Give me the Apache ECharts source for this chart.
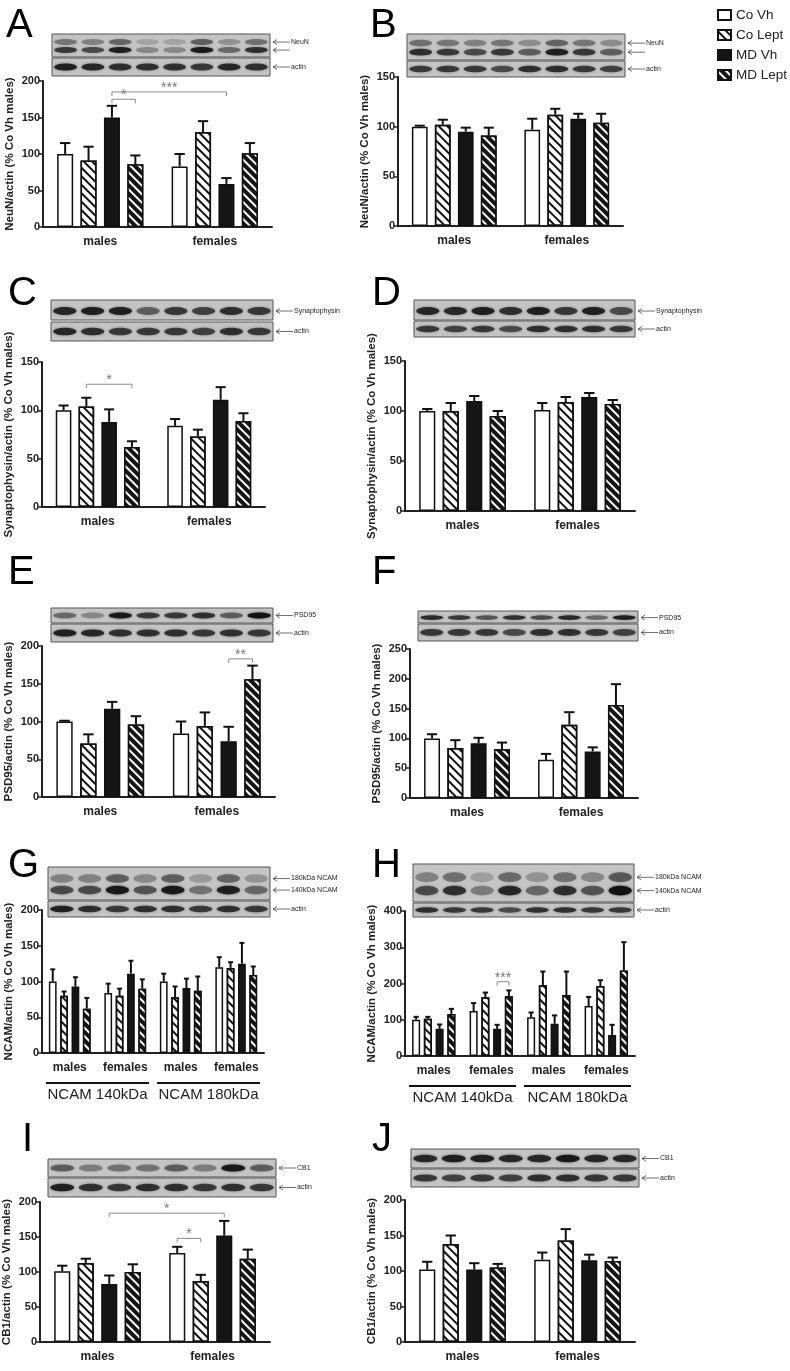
<!DOCTYPE html>
<html>
<head>
<meta charset="utf-8">
<script src="https://cdn.jsdelivr.net/npm/echarts@6/dist/echarts.min.js"></script>
<style>html,body{margin:0;padding:0;background:#fff}#main{width:790px;height:1371px}</style>
</head>
<body>
<div id="main"></div>
<script>
var treatments = ['Co Vh', 'Co Lept', 'MD Vh', 'MD Lept'];
var groups2 = ['males', 'females'];
var groups4 = ['males', 'females', 'males', 'females'];

// means / errors: one row per treatment, one column per group
var aMeans = [[100, 83], [91, 130], [150, 59], [86, 101]];
var aErr = [[15, 17], [19, 15], [16, 8], [12, 14]];
var bMeans = [[100, 97], [102, 112], [95, 108], [91, 104]];
var bErr = [[1, 11], [5, 6], [4, 5], [8, 9]];
var cMeans = [[100, 84], [104, 73], [88, 111], [62, 89]];
var cErr = [[5, 7], [9, 7], [13, 13], [6, 8]];
var dMeans = [[100, 101], [100, 109], [110, 114], [95, 107]];
var dErr = [[2, 7], [8, 5], [5, 4], [5, 4]];
var eMeans = [[100, 84], [71, 94], [117, 74], [96, 156]];
var eErr = [[1, 16], [12, 18], [9, 19], [11, 18]];
var fMeans = [[100, 64], [84, 123], [92, 78], [82, 156]];
var fErr = [[7, 10], [13, 21], [9, 7], [11, 35]];
var gMeans = [[100, 84, 100, 120], [80, 80, 78, 119], [93, 111, 91, 125], [62, 90, 87, 109]];
var gErr = [[17, 13, 11, 14], [6, 10, 15, 8], [13, 18, 13, 29], [15, 13, 20, 12]];
var hMeans = [[100, 124, 107, 138], [103, 162, 195, 193], [75, 75, 89, 58], [116, 165, 168, 236]];
var hErr = [[8, 22, 13, 25], [5, 13, 38, 16], [12, 11, 23, 28], [14, 16, 65, 78]];
var iMeans = [[101, 127], [113, 87], [83, 152], [100, 119]];
var iErr = [[8, 9], [6, 9], [12, 21], [11, 13]];
var jMeans = [[102, 116], [138, 143], [102, 115], [105, 114]];
var jErr = [[11, 10], [12, 16], [9, 8], [5, 5]];

// significance brackets: [group1, treatment1, group2, treatment2, y, label]
var aSig = [[0, 2, 0, 3, 175, '*'], [0, 2, 1, 2, 185, '***']];
var cSig = [[0, 1, 0, 3, 127, '*']];
var eSig = [[1, 2, 1, 3, 183, '**']];
var hSig = [[1, 2, 1, 3, 205, '***']];
var iSig = [[0, 2, 1, 2, 184, '*'], [1, 0, 1, 1, 148, '*']];

var panels = [
    {letter: 'A', lx: 6, ly: 6, grid: [43, 81, 229, 146], max: 200, step: 50, name: 'NeuN/actin (% Co Vh males)', groups: groups2, means: aMeans, errs: aErr, sig: aSig,
        blot: [[52, 34, 218, 23, ['NeuN'], [0.35, 0.7], [0.7, 0.6, 0.85, 0.3, 0.3, 0.9, 0.45, 0.75]], [52, 58, 218, 18, ['actin'], [0.5], [0.85, 0.8, 0.75, 0.75, 0.75, 0.7, 0.8, 0.75]]]},
    {letter: 'B', lx: 370, ly: 6, grid: [398, 77, 225, 149], max: 150, step: 50, name: 'NeuN/actin (% Co Vh males)', groups: groups2, means: bMeans, errs: bErr, sig: [],
        blot: [[407, 34, 218, 26, ['NeuN'], [0.35, 0.7], [0.75, 0.7, 0.6, 0.7, 0.5, 0.85, 0.7, 0.5]], [407, 61, 218, 16, ['actin'], [0.5], [0.7, 0.7, 0.7, 0.6, 0.75, 0.75, 0.7, 0.65]]]},
    {letter: 'C', lx: 8, ly: 274, grid: [42, 362, 223, 145], max: 150, step: 50, name: 'Synaptophysin/actin (% Co Vh males)', groups: groups2, means: cMeans, errs: cErr, sig: cSig,
        blot: [[51, 300, 222, 20, ['Synaptophysin'], [0.55], [0.8, 0.85, 0.85, 0.5, 0.7, 0.65, 0.75, 0.7]], [51, 322, 222, 19, ['actin'], [0.5], [0.8, 0.75, 0.7, 0.7, 0.7, 0.65, 0.75, 0.7]]]},
    {letter: 'D', lx: 372, ly: 274, grid: [405, 361, 230, 150], max: 150, step: 50, name: 'Synaptophysin/actin (% Co Vh males)', groups: groups2, means: dMeans, errs: dErr, sig: [],
        blot: [[414, 300, 221, 20, ['Synaptophysin'], [0.55], [0.8, 0.8, 0.85, 0.75, 0.85, 0.7, 0.85, 0.6]], [414, 321, 221, 16, ['actin'], [0.5], [0.7, 0.65, 0.7, 0.6, 0.75, 0.75, 0.75, 0.7]]]},
    {letter: 'E', lx: 8, ly: 553, grid: [42, 646, 233, 151], max: 200, step: 50, name: 'PSD95/actin (% Co Vh males)', groups: groups2, means: eMeans, errs: eErr, sig: eSig,
        blot: [[51, 608, 222, 15, ['PSD95'], [0.5], [0.45, 0.3, 0.9, 0.7, 0.7, 0.75, 0.5, 0.95]], [51, 624, 222, 18, ['actin'], [0.5], [0.85, 0.8, 0.75, 0.75, 0.75, 0.7, 0.75, 0.7]]]},
    {letter: 'F', lx: 372, ly: 553, grid: [410, 649, 228, 149], max: 250, step: 50, name: 'PSD95/actin (% Co Vh males)', groups: groups2, means: fMeans, errs: fErr, sig: [],
        blot: [[418, 611, 220, 12, ['PSD95'], [0.55], [0.8, 0.7, 0.55, 0.75, 0.6, 0.8, 0.45, 0.85]], [418, 624, 220, 17, ['actin'], [0.5], [0.7, 0.7, 0.7, 0.6, 0.75, 0.75, 0.7, 0.65]]]},
    {letter: 'G', lx: 8, ly: 846, grid: [42, 910, 222, 143], max: 200, step: 50, name: 'NCAM/actin (% Co Vh males)', groups: groups4, means: gMeans, errs: gErr, sig: [], ncam: true,
        blot: [[48, 867, 222, 33, ['180kDa NCAM', '140kDa NCAM'], [0.35, 0.7], [0.6, 0.6, 0.9, 0.55, 0.9, 0.4, 0.85, 0.45]], [48, 901, 222, 16, ['actin'], [0.5], [0.85, 0.75, 0.7, 0.75, 0.75, 0.7, 0.75, 0.7]]]},
    {letter: 'H', lx: 372, ly: 846, grid: [405, 911, 230, 145], max: 400, step: 100, name: 'NCAM/actin (% Co Vh males)', groups: groups4, means: hMeans, errs: hErr, sig: hSig, ncam: true,
        blot: [[413, 864, 221, 38, ['180kDa NCAM', '140kDa NCAM'], [0.35, 0.7], [0.6, 0.75, 0.35, 0.8, 0.45, 0.75, 0.55, 0.95]], [413, 903, 221, 14, ['actin'], [0.5], [0.75, 0.7, 0.7, 0.6, 0.75, 0.75, 0.7, 0.7]]]},
    {letter: 'I', lx: 22, ly: 1120, grid: [40, 1202, 230, 140], max: 200, step: 50, name: 'CB1/actin (% Co Vh males)', groups: groups2, means: iMeans, errs: iErr, sig: iSig,
        blot: [[48, 1159, 228, 18, ['CB1'], [0.5], [0.5, 0.35, 0.4, 0.4, 0.5, 0.35, 0.9, 0.5]], [48, 1178, 228, 19, ['actin'], [0.5], [0.85, 0.75, 0.7, 0.75, 0.75, 0.7, 0.75, 0.7]]]},
    {letter: 'J', lx: 372, ly: 1120, grid: [405, 1200, 230, 142], max: 200, step: 50, name: 'CB1/actin (% Co Vh males)', groups: groups2, means: jMeans, errs: jErr, sig: [],
        blot: [[411, 1149, 228, 19, ['CB1'], [0.5], [0.8, 0.85, 0.85, 0.8, 0.8, 0.9, 0.8, 0.8]], [411, 1169, 228, 18, ['actin'], [0.5], [0.7, 0.65, 0.7, 0.65, 0.75, 0.75, 0.7, 0.7]]]}
];

var FONT = 'Liberation Sans, Arial, sans-serif';
var PITCH = 0.2044, FIRST = -0.3066;

function barStyle(t) {
    var s = {color: t < 2 ? '#fff' : '#151515', borderColor: '#111', borderWidth: 1.5};
    if (t === 1) s.decal = {symbol: 'rect', symbolSize: 1, dashArrayX: [1, 0], dashArrayY: [1.4, 3.6], rotation: Math.PI / 4, color: '#111'};
    if (t === 3) s.decal = {symbol: 'rect', symbolSize: 1, dashArrayX: [1, 0], dashArrayY: [1.3, 3.7], rotation: Math.PI / 4, color: '#fff'};
    return s;
}

var grids = [], xAxes = [], yAxes = [], series = [], graphics = [];

panels.forEach(function (p, pi) {
    grids.push({left: p.grid[0], top: p.grid[1], width: p.grid[2], height: p.grid[3]});
    xAxes.push({type: 'category', gridIndex: pi, data: p.groups.map(function (g, k) { return k; }),
        axisTick: {show: false}, axisLine: {lineStyle: {color: '#222', width: 2}},
        axisLabel: {color: '#222', fontWeight: 'bold', fontSize: 12, fontFamily: FONT, margin: 9, interval: 0,
            formatter: function (v) { return p.groups[+v]; }}});
    yAxes.push({type: 'value', gridIndex: pi, min: 0, max: p.max, interval: p.step,
        name: p.name, nameLocation: 'middle', nameRotate: 90, nameGap: 27,
        nameTextStyle: {color: '#222', fontWeight: 'bold', fontSize: 11.5, fontFamily: FONT},
        axisLine: {show: true, lineStyle: {color: '#222', width: 2}},
        axisTick: {show: true, length: 4, lineStyle: {width: 1.5}},
        splitLine: {show: false},
        axisLabel: {color: '#222', fontWeight: 'bold', fontSize: 11, fontFamily: FONT, margin: 3}});

    var errData = [];
    p.means.forEach(function (row, t) {
        series.push({type: 'bar', name: treatments[t], xAxisIndex: pi, yAxisIndex: pi,
            data: row, barWidth: '14%', barGap: '46%', itemStyle: barStyle(t), silent: true});
        row.forEach(function (m, g) { errData.push([g, m, p.errs[t][g], t]); });
    });

    series.push({type: 'custom', xAxisIndex: pi, yAxisIndex: pi, data: errData, silent: true, z: 5,
        renderItem: function (params, api) {
            var band = api.size([1, 0])[0];
            var g = api.value(0), m = api.value(1), e = api.value(2), t = api.value(3);
            var a = api.coord([g, m]), b = api.coord([g, m + e]);
            var x = a[0] + (FIRST + t * PITCH) * band;
            var h = band * 0.045;
            var st = {stroke: '#111', lineWidth: 2};
            return {type: 'group', children: [
                {type: 'line', shape: {x1: x, y1: a[1], x2: x, y2: b[1]}, style: st},
                {type: 'line', shape: {x1: x - h, y1: b[1], x2: x + h, y2: b[1]}, style: st}
            ]};
        }});

    if (p.sig.length) {
        series.push({type: 'custom', xAxisIndex: pi, yAxisIndex: pi, data: p.sig.map(function (s) { return s.slice(0, 5); }), silent: true, z: 6,
            renderItem: function (params, api) {
                var band = api.size([1, 0])[0];
                var y = api.value(4);
                var a = api.coord([api.value(0), y]), b = api.coord([api.value(2), y]);
                var x1 = a[0] + (FIRST + api.value(1) * PITCH) * band;
                var x2 = b[0] + (FIRST + api.value(3) * PITCH) * band;
                return {type: 'group', children: [
                    {type: 'polyline', shape: {points: [[x1, a[1] + 4], [x1, a[1]], [x2, a[1]], [x2, a[1] + 4]]}, style: {stroke: '#8a8a8a', lineWidth: 1, fill: null}},
                    {type: 'text', style: {text: p.sig[params.dataIndex][5], x: (x1 + x2) / 2, y: a[1] + 3, align: 'center', verticalAlign: 'bottom', fill: '#777', fontSize: 14, fontFamily: FONT}}
                ]};
            }});
    }

    graphics.push({type: 'text', left: p.lx, top: p.ly, style: {text: p.letter, fontSize: 40, fontFamily: FONT, fill: '#000'}});

    // western blot strips
    p.blot.forEach(function (b) {
        var x = b[0], y = b[1], w = b[2], h = b[3];
        graphics.push({type: 'rect', shape: {x: x, y: y, width: w, height: h}, style: {fill: '#c4c4c4', stroke: '#555', lineWidth: 1}});
        b[5].forEach(function (fy, bi) {
            b[6].forEach(function (inten, li) {
                var a = bi === 0 && b[5].length > 1 ? inten * 0.55 : inten;
                graphics.push({type: 'ellipse', shape: {cx: x + w * (li + 0.5) / 8, cy: y + h * fy, rx: w / 8 * 0.42, ry: Math.max(2, h * (b[5].length > 1 ? 0.13 : 0.2))},
                    style: {fill: 'rgba(15,15,15,' + a + ')', shadowBlur: 3, shadowColor: 'rgba(15,15,15,' + a * 0.6 + ')'}});
            });
            var ly = y + h * fy;
            graphics.push({type: 'polyline', shape: {points: [[x + w + 20, ly], [x + w + 3, ly]]}, style: {stroke: '#333', lineWidth: 0.7, fill: null}});
            graphics.push({type: 'polyline', shape: {points: [[x + w + 7, ly - 2.5], [x + w + 3, ly], [x + w + 7, ly + 2.5]]}, style: {stroke: '#333', lineWidth: 0.7, fill: null}});
            graphics.push({type: 'text', x: x + w + 21, y: ly, style: {text: b[4][bi], fontSize: 7, fontFamily: FONT, fill: '#222', verticalAlign: 'middle'}});
        });
    });

    if (p.ncam) {
        var band = p.grid[2] / 4, ly = p.grid[1] + p.grid[3] + 30;
        ['NCAM 140kDa', 'NCAM 180kDa'].forEach(function (lab, k) {
            var x0 = p.grid[0] + k * 2 * band;
            graphics.push({type: 'line', shape: {x1: x0 + 4, y1: ly, x2: x0 + 2 * band - 4, y2: ly}, style: {stroke: '#111', lineWidth: 2}});
            graphics.push({type: 'text', x: x0 + band, y: ly + 4, style: {text: lab, align: 'center', verticalAlign: 'top', fontSize: 15, fontFamily: FONT, fill: '#222'}});
        });
    }
});

var chart = echarts.init(document.getElementById('main'));
chart.setOption({
    animation: false,
    legend: {data: treatments, orient: 'vertical', left: 712, top: 3, icon: 'rect', itemWidth: 13, itemHeight: 10, itemGap: 6,
        selectedMode: false, textStyle: {fontSize: 13.5, fontFamily: FONT, color: '#222'}},
    grid: grids, xAxis: xAxes, yAxis: yAxes, series: series, graphic: graphics
});
</script>
</body>
</html>
